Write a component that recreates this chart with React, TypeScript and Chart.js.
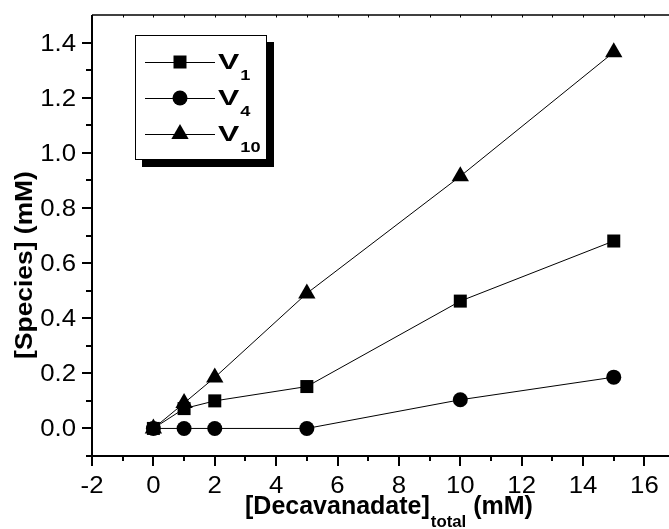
import React, { useEffect, useRef } from "react";
import { Chart, registerables } from "chart.js";

Chart.register(...registerables);

const xValues = [0, 1, 2, 5, 10, 15];
const v1Values = [0, 0.072, 0.1, 0.152, 0.462, 0.68];
const v4Values = [0, 0, 0, 0, 0.104, 0.186];
const v10Values = [0, 0.092, 0.185, 0.49, 0.915, 1.365];

const xMajorTicks = [-2, 0, 2, 4, 6, 8, 10, 12, 14, 16];
const xMinorTicks = [-1, 1, 3, 5, 7, 9, 11, 13, 15];
const xTopTicks = [-1, 0, 1, 2, 3, 4, 5, 6, 7, 8, 9, 10, 11, 12, 13, 14, 15, 16];
const yMajorTicks = [0, 0.2, 0.4, 0.6, 0.8, 1.0, 1.2, 1.4];
const yMinorTicks = [-0.1, 0.1, 0.3, 0.5, 0.7, 0.9, 1.1, 1.3];

const legendNames = ["V", "V", "V"];
const legendSubs = ["1", "4", "10"];
const legendStyles = ["rect", "circle", "triangle"];

const FONT = '"Liberation Sans", Arial, Helvetica, sans-serif';

function stretchedText(
  ctx: CanvasRenderingContext2D,
  text: string,
  x: number,
  y: number,
  font: string,
  align: CanvasTextAlign,
  baseline: CanvasTextBaseline,
  sx: number
) {
  ctx.save();
  ctx.font = font;
  ctx.textAlign = align;
  ctx.textBaseline = baseline;
  const w = ctx.measureText(text).width * sx;
  ctx.translate(x, y);
  ctx.scale(sx, 1);
  ctx.fillText(text, 0, 0);
  ctx.restore();
  return w;
}

function drawMarker(ctx: CanvasRenderingContext2D, style: string, x: number, y: number) {
  ctx.beginPath();
  if (style === "rect") {
    const s = 6.5;
    ctx.rect(x - s, y - s, 2 * s, 2 * s);
  } else if (style === "circle") {
    ctx.arc(x, y, 7.5, 0, Math.PI * 2);
  } else {
    const r = 10;
    ctx.moveTo(x, y - r);
    ctx.lineTo(x + r * Math.sin((2 * Math.PI) / 3), y - r * Math.cos((2 * Math.PI) / 3));
    ctx.lineTo(x + r * Math.sin((4 * Math.PI) / 3), y - r * Math.cos((4 * Math.PI) / 3));
    ctx.closePath();
  }
  ctx.fill();
}

const framePlugin = {
  id: "frame",
  beforeDatasetsDraw(chart: any) {
    const ctx: CanvasRenderingContext2D = chart.ctx;
    const { left, right, top, bottom } = chart.chartArea;
    const xs = chart.scales.x;
    const ys = chart.scales.y;
    ctx.save();
    ctx.strokeStyle = "#000";
    ctx.fillStyle = "#000";
    // axes
    ctx.lineWidth = 2;
    ctx.beginPath();
    ctx.moveTo(left, top);
    ctx.lineTo(left, bottom + 1);
    ctx.moveTo(left - 1, bottom);
    ctx.lineTo(right, bottom);
    ctx.stroke();
    ctx.lineWidth = 1.5;
    ctx.beginPath();
    ctx.moveTo(left, top);
    ctx.lineTo(right, top);
    ctx.stroke();
    // top ticks (inward)
    ctx.lineWidth = 1;
    ctx.beginPath();
    xTopTicks.forEach((v) => {
      const px = Math.round(xs.getPixelForValue(v)) + 0.5;
      ctx.moveTo(px, top);
      ctx.lineTo(px, top + 2.5);
    });
    ctx.stroke();
    // bottom & left ticks
    ctx.lineWidth = 2;
    ctx.beginPath();
    xMajorTicks.forEach((v) => {
      const px = Math.round(xs.getPixelForValue(v));
      ctx.moveTo(px, bottom);
      ctx.lineTo(px, bottom + 10);
    });
    xMinorTicks.forEach((v) => {
      const px = Math.round(xs.getPixelForValue(v));
      ctx.moveTo(px, bottom);
      ctx.lineTo(px, bottom + 5);
    });
    yMajorTicks.forEach((v) => {
      const py = Math.round(ys.getPixelForValue(v));
      ctx.moveTo(left, py);
      ctx.lineTo(left - 10, py);
    });
    yMinorTicks.forEach((v) => {
      const py = Math.round(ys.getPixelForValue(v));
      ctx.moveTo(left, py);
      ctx.lineTo(left - 6, py);
    });
    ctx.stroke();
    // tick labels
    const tickFont = `23px ${FONT}`;
    xMajorTicks.forEach((v) => {
      const px = xs.getPixelForValue(v);
      stretchedText(ctx, String(v), px, bottom + 37, tickFont, "center", "alphabetic", 1.12);
    });
    yMajorTicks.forEach((v) => {
      const py = ys.getPixelForValue(v);
      stretchedText(ctx, v.toFixed(1), left - 16, py + 8, tickFont, "right", "alphabetic", 1.12);
    });
    // y title
    ctx.save();
    ctx.translate(32, 265);
    ctx.rotate(-Math.PI / 2);
    stretchedText(ctx, "[Species] (mM)", 0, 0, `bold 24px ${FONT}`, "center", "alphabetic", 1.1);
    ctx.restore();
    // x title
    let cx = 245;
    const base = 514;
    cx += stretchedText(ctx, "[Decavanadate]", cx, base, `bold 25px ${FONT}`, "left", "alphabetic", 1.0);
    cx += 1;
    cx += stretchedText(ctx, "total", cx, base + 13, `bold 16px ${FONT}`, "left", "alphabetic", 1.05);
    stretchedText(ctx, " (mM)", cx, base, `bold 25px ${FONT}`, "left", "alphabetic", 1.0);
    ctx.restore();
  },
  afterDatasetsDraw(chart: any) {
    const ctx: CanvasRenderingContext2D = chart.ctx;
    ctx.save();
    // legend shadow and box
    ctx.fillStyle = "#000";
    ctx.fillRect(142, 42, 132, 125);
    ctx.fillStyle = "#fff";
    ctx.fillRect(135, 35, 132, 125);
    ctx.strokeStyle = "#000";
    ctx.lineWidth = 1;
    ctx.strokeRect(135.5, 35.5, 131, 124);
    const rows = [62, 98, 134];
    rows.forEach((ry, i) => {
      ctx.strokeStyle = "#000";
      ctx.lineWidth = 1;
      ctx.beginPath();
      ctx.moveTo(145, ry + 0.5);
      ctx.lineTo(215, ry + 0.5);
      ctx.stroke();
      ctx.fillStyle = "#000";
      drawMarker(ctx, legendStyles[i], 180, ry);
      const w = stretchedText(ctx, legendNames[i], 218, ry + 7, `bold 22px ${FONT}`, "left", "alphabetic", 1.45);
      stretchedText(ctx, legendSubs[i], 218 + w + 1, ry + 18, `bold 14px ${FONT}`, "left", "alphabetic", 1.3);
    });
    ctx.restore();
  },
};

export default function App() {
  const ref = useRef<HTMLCanvasElement>(null);
  useEffect(() => {
    if (!ref.current) return;
    const mk = (vals: number[]) => xValues.map((x, i) => ({ x, y: vals[i] }));
    const common = {
      borderColor: "#000",
      backgroundColor: "#000",
      pointBackgroundColor: "#000",
      pointBorderColor: "#000",
      pointBorderWidth: 0,
      borderWidth: 1,
      tension: 0,
      showLine: true,
      pointHoverRadius: 0,
    };
    const chart = new Chart(ref.current, {
      type: "scatter",
      data: {
        datasets: [
          { ...common, label: "V1", data: mk(v1Values), pointStyle: "rect", pointRadius: 9.2, order: 1 },
          { ...common, label: "V4", data: mk(v4Values), pointStyle: "circle", pointRadius: 7.5, order: 2 },
          { ...common, label: "V10", data: mk(v10Values), pointStyle: "triangle", pointRadius: 10, order: 0 },
        ],
      },
      options: {
        animation: false,
        responsive: false,
        maintainAspectRatio: false,
        devicePixelRatio: 1,
        layout: { autoPadding: false, padding: { top: 15, right: 0, left: 0, bottom: 0 } },
        plugins: { legend: { display: false }, tooltip: { enabled: false } },
        events: [],
        scales: {
          x: {
            type: "linear",
            min: -2,
            max: 16.8,
            ticks: { display: false },
            grid: { display: false },
            border: { display: false },
            afterFit: (s: any) => {
              s.height = 73;
            },
          },
          y: {
            type: "linear",
            min: -0.1,
            max: 1.5,
            ticks: { display: false },
            grid: { display: false },
            border: { display: false },
            afterFit: (s: any) => {
              s.width = 92;
            },
          },
        },
      },
      plugins: [framePlugin],
    } as any);
    return () => chart.destroy();
  }, []);
  return (
    <div style={{ position: "absolute", left: 0, top: 0, width: 669, height: 529, background: "#fff" }}>
      <canvas ref={ref} width={669} height={529} style={{ display: "block", width: 669, height: 529 }} />
    </div>
  );
}
